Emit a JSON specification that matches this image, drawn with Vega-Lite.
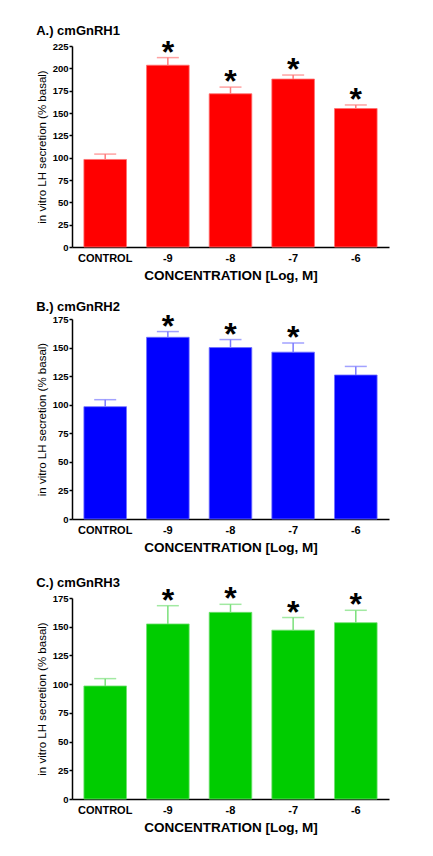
{
  "$schema": "https://vega.github.io/schema/vega-lite/v6.json",
  "background": "white",
  "padding": {"left": 36, "top": 24, "right": 10, "bottom": 5},
  "spacing": 23,
  "config": {
    "view": {"stroke": null},
    "font": "Liberation Sans",
    "axis": {"grid": false, "domainColor": "black", "domainWidth": 1.5, "labelColor": "black", "titleColor": "black", "labelFont": "Liberation Sans", "titleFont": "Liberation Sans"},
    "axisX": {"ticks": false, "labelAngle": 0, "labelFontWeight": "bold", "labelFontSize": 11, "labelPadding": 5, "titleFontSize": 13.5, "titleFontWeight": "bold", "titlePadding": 5},
    "axisY": {"tickColor": "black", "tickWidth": 1.5, "tickSize": 3, "labelFontWeight": "bold", "labelFontSize": 9.5, "labelPadding": 1, "labelOverlap": false, "titleFontSize": 11.5, "titleFontWeight": "normal", "titlePadding": 5},
    "title": {"font": "Liberation Sans", "fontSize": 13, "fontWeight": "bold", "anchor": "start", "frame": "bounds", "color": "black"}
  },
  "datasets": {
    "a": [
      {"cond": "CONTROL", "mean": 98, "hi": 104, "star": ""},
      {"cond": "-9", "mean": 203.5, "hi": 212, "star": "*"},
      {"cond": "-8", "mean": 171.5, "hi": 179, "star": "*"},
      {"cond": "-7", "mean": 188, "hi": 192.5, "star": "*"},
      {"cond": "-6", "mean": 155, "hi": 159, "star": "*"}
    ],
    "b": [
      {"cond": "CONTROL", "mean": 98.3, "hi": 104.4, "star": ""},
      {"cond": "-9", "mean": 159, "hi": 164, "star": "*"},
      {"cond": "-8", "mean": 150, "hi": 157, "star": "*"},
      {"cond": "-7", "mean": 146, "hi": 154, "star": "*"},
      {"cond": "-6", "mean": 126, "hi": 133.5, "star": ""}
    ],
    "c": [
      {"cond": "CONTROL", "mean": 98.4, "hi": 104.8, "star": ""},
      {"cond": "-9", "mean": 152.4, "hi": 168.3, "star": "*"},
      {"cond": "-8", "mean": 162.5, "hi": 169.5, "star": "*"},
      {"cond": "-7", "mean": 147, "hi": 158, "star": "*"},
      {"cond": "-6", "mean": 153.5, "hi": 164.3, "star": "*"}
    ]
  },
  "vconcat": [
    {
      "spacing": 18,
      "vconcat": [
        {
          "title": {"text": "A.) cmGnRH1", "offset": -1},
          "width": 317, "height": 201,
          "data": {"name": "a"},
          "encoding": {
            "x": {"field": "cond", "type": "nominal", "sort": null,
              "scale": {"paddingInner": 0.32, "paddingOuter": 0.19},
              "axis": {"title": "CONCENTRATION [Log, M]"}}
          },
          "layer": [
            {"mark": {"type": "bar", "color": "#ff0000", "stroke": "#ff7070", "strokeWidth": 0.8},
             "encoding": {"y": {"field": "mean", "type": "quantitative", "scale": {"domain": [0, 225], "nice": false},
               "axis": {"title": "in vitro LH secretion (% basal)", "values": [0,25,50,75,100,125,150,175,200,225]}}}},
            {"mark": {"type": "rule", "color": "#ff7a7a", "strokeWidth": 1.5},
             "encoding": {"y": {"field": "mean", "type": "quantitative", "axis": {"title": "in vitro LH secretion (% basal)", "values": [0,25,50,75,100,125,150,175,200,225]}}, "y2": {"field": "hi"}}},
            {"mark": {"type": "tick", "color": "#ff7a7a", "thickness": 1.5, "size": 22},
             "encoding": {"y": {"field": "hi", "type": "quantitative", "axis": {"title": "in vitro LH secretion (% basal)", "values": [0,25,50,75,100,125,150,175,200,225]}}}},
            {"mark": {"type": "text", "fontSize": 32, "fontWeight": "bold", "baseline": "alphabetic", "dy": 5, "color": "black"},
             "encoding": {"y": {"field": "hi", "type": "quantitative", "axis": {"title": "in vitro LH secretion (% basal)", "values": [0,25,50,75,100,125,150,175,200,225]}}, "text": {"field": "star"}}}
          ]
        },
        {
          "title": {"text": "B.) cmGnRH2", "offset": -3},
          "width": 317, "height": 200,
          "data": {"name": "b"},
          "encoding": {
            "x": {"field": "cond", "type": "nominal", "sort": null,
              "scale": {"paddingInner": 0.32, "paddingOuter": 0.19},
              "axis": {"title": "CONCENTRATION [Log, M]"}}
          },
          "layer": [
            {"mark": {"type": "bar", "color": "#0000ff", "stroke": "#7070ff", "strokeWidth": 0.8},
             "encoding": {"y": {"field": "mean", "type": "quantitative", "scale": {"domain": [0, 175], "nice": false},
               "axis": {"title": "in vitro LH secretion (% basal)", "values": [0,25,50,75,100,125,150,175]}}}},
            {"mark": {"type": "rule", "color": "#7a7aff", "strokeWidth": 1.5},
             "encoding": {"y": {"field": "mean", "type": "quantitative", "axis": {"title": "in vitro LH secretion (% basal)", "values": [0,25,50,75,100,125,150,175]}}, "y2": {"field": "hi"}}},
            {"mark": {"type": "tick", "color": "#7a7aff", "thickness": 1.5, "size": 22},
             "encoding": {"y": {"field": "hi", "type": "quantitative", "axis": {"title": "in vitro LH secretion (% basal)", "values": [0,25,50,75,100,125,150,175]}}}},
            {"mark": {"type": "text", "fontSize": 32, "fontWeight": "bold", "baseline": "alphabetic", "dy": 5, "color": "black"},
             "encoding": {"y": {"field": "hi", "type": "quantitative", "axis": {"title": "in vitro LH secretion (% basal)", "values": [0,25,50,75,100,125,150,175]}}, "text": {"field": "star"}}}
          ]
        }
      ]
    },
    {
      "title": {"text": "C.) cmGnRH3", "offset": -7},
      "width": 317, "height": 201,
      "data": {"name": "c"},
      "encoding": {
        "x": {"field": "cond", "type": "nominal", "sort": null,
          "scale": {"paddingInner": 0.32, "paddingOuter": 0.19},
          "axis": {"title": "CONCENTRATION [Log, M]"}}
      },
      "layer": [
        {"mark": {"type": "bar", "color": "#00cc00", "stroke": "#70e070", "strokeWidth": 0.8},
         "encoding": {"y": {"field": "mean", "type": "quantitative", "scale": {"domain": [0, 175], "nice": false},
           "axis": {"title": "in vitro LH secretion (% basal)", "values": [0,25,50,75,100,125,150,175]}}}},
        {"mark": {"type": "rule", "color": "#7ae07a", "strokeWidth": 1.5},
         "encoding": {"y": {"field": "mean", "type": "quantitative", "axis": {"title": "in vitro LH secretion (% basal)", "values": [0,25,50,75,100,125,150,175]}}, "y2": {"field": "hi"}}},
        {"mark": {"type": "tick", "color": "#7ae07a", "thickness": 1.5, "size": 22},
         "encoding": {"y": {"field": "hi", "type": "quantitative", "axis": {"title": "in vitro LH secretion (% basal)", "values": [0,25,50,75,100,125,150,175]}}}},
        {"mark": {"type": "text", "fontSize": 32, "fontWeight": "bold", "baseline": "alphabetic", "dy": 5, "color": "black"},
         "encoding": {"y": {"field": "hi", "type": "quantitative", "axis": {"title": "in vitro LH secretion (% basal)", "values": [0,25,50,75,100,125,150,175]}}, "text": {"field": "star"}}}
      ]
    }
  ]
}
